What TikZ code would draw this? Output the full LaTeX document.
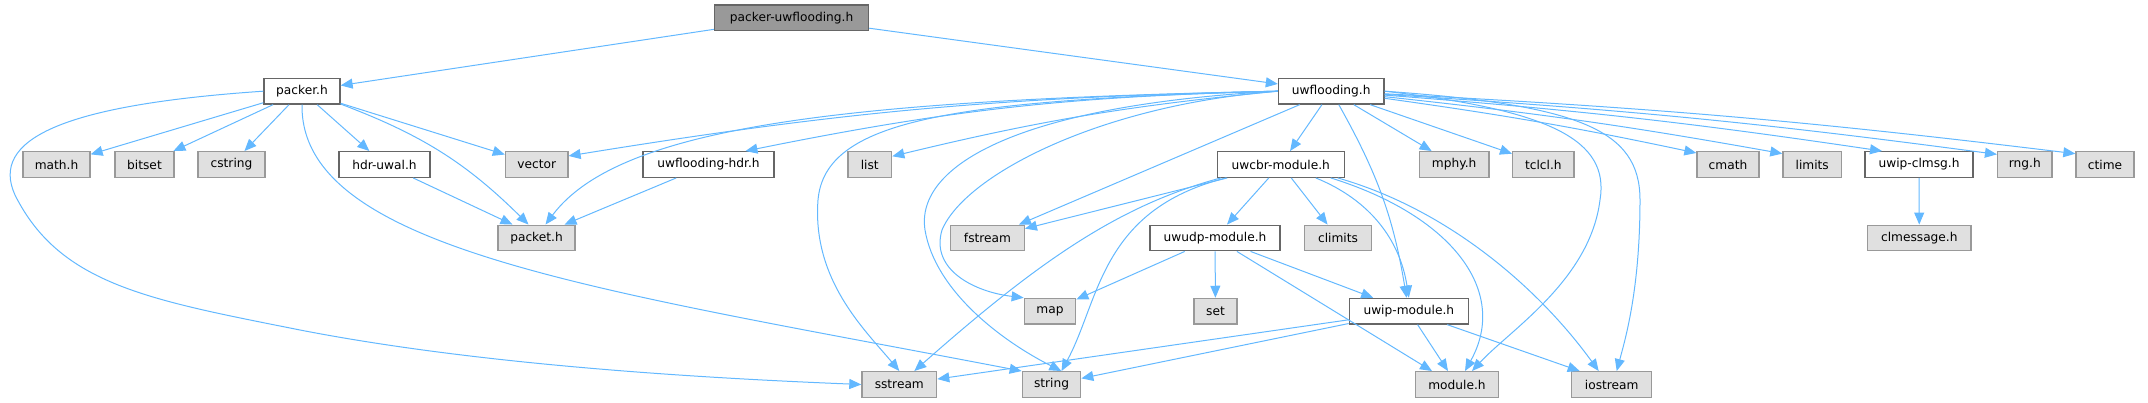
\documentclass[tikz,border=0pt]{standalone}
\usepackage{fontspec}
\usepackage{tikz}
\setmainfont{DejaVu Sans}
\usetikzlibrary{arrows.meta}
\definecolor{sysfill}{HTML}{E0E0E0}
\definecolor{sysline}{HTML}{999999}
\definecolor{locline}{HTML}{666666}
\definecolor{rootfill}{HTML}{999999}
\definecolor{incl}{HTML}{63B8FF}
\newcommand{\graphfont}{\fontsize{12.2}{14}\selectfont}
\tikzset{
  hbox/.style={draw=locline, fill=white, line width=1.3pt, minimum height=25.6pt,
    inner xsep=1pt, inner ysep=0pt, font=\graphfont},
  sbox/.style={hbox, draw=sysline, fill=sysfill},
  rbox/.style={hbox, fill=rootfill},
  inc/.style={draw=incl, line width=1pt, -{Triangle[length=12pt,width=10pt]}},
}
\begin{document}
\begin{tikzpicture}[x=1pt, y=-1pt]
        \useasboundingbox (0,0) rectangle (2148,403);

        % files
        \node[rbox, minimum width=154] (root) at (791.6,17.7) {packer-uwflooding.h};

        \node[hbox, minimum width=76] (packer) at (302,91.2) {packer.h};
        \node[hbox, minimum width=105.5] (uwflooding) at (1331.2,91.2) {uwflooding.h};

        \node[sbox, minimum width=67] (mathh) at (56.5,164.5) {math.h};
        \node[sbox, minimum width=59] (bitset) at (144.5,164.5) {bitset};
        \node[sbox, minimum width=67] (cstring) at (231.5,164.5) {cstring};
        \node[hbox, minimum width=91] (hdruwal) at (384.5,164.5) {hdr-uwal.h};
        \node[sbox, minimum width=62.5] (vector) at (536.7,164.5) {vector};
        \node[hbox, minimum width=131] (uwfhdr) at (708.5,164.5) {uwflooding-hdr.h};
        \node[sbox, minimum width=43.7] (list) at (869.8,164.5) {list};
        \node[hbox, minimum width=127] (uwcbr) at (1280.8,164.5) {uwcbr-module.h};
        \node[sbox, minimum width=69.7] (mphy) at (1454.2,164.5) {mphy.h};
        \node[sbox, minimum width=61.3] (tclcl) at (1543.3,164.5) {tclcl.h};
        \node[sbox, minimum width=62] (cmath) at (1728,164.5) {cmath};
        \node[sbox, minimum width=58.5] (limits) at (1812.2,164.5) {limits};
        \node[hbox, minimum width=108] (uwipclmsg) at (1919,164.5) {uwip-clmsg.h};
        \node[sbox, minimum width=54.4] (rngh) at (2024.8,164.5) {rng.h};
        \node[sbox, minimum width=58] (ctime) at (2105,164.5) {ctime};

        \node[sbox, minimum width=77] (packet) at (536.5,238) {packet.h};
        \node[sbox, minimum width=73.6] (fstream) at (987.5,238) {fstream};
        \node[hbox, minimum width=130] (uwudp) at (1215,238) {uwudp-module.h};
        \node[sbox, minimum width=67.4] (climits) at (1338,238) {climits};
        \node[sbox, minimum width=103.3] (clmessage) at (1919.3,238) {clmessage.h};

        \node[sbox, minimum width=51.4] (map) at (1050,311.2) {map};
        \node[sbox, minimum width=43] (set) at (1215.5,311.2) {set};
        \node[hbox, minimum width=119] (uwip) at (1408.8,311.2) {uwip-module.h};

        \node[sbox, minimum width=74.7] (sstream) at (899.3,384.5) {sstream};
        \node[sbox, minimum width=58.4] (string) at (1051.5,384.5) {string};
        \node[sbox, minimum width=82.6] (module) at (1457,384.5) {module.h};
        \node[sbox, minimum width=80] (iostream) at (1611.7,384.5) {iostream};

        % includes of the root
        \draw[inc] (root) -- (packer);
        \draw[inc] (root) -- (uwflooding);

        % packer.h
        \foreach \t in {mathh, bitset, cstring, hdruwal, vector}
            \draw[inc] (packer) -- (\t);
        \draw[inc] (packer) to[bend left=12] ([xshift=-8]packet.north);
        \draw[inc] (packer.south) .. controls (300,250) and (600,290) .. (string.north west);
        \draw[inc] (packer.west) .. controls (60,105) and (-10,140) .. (15,195)
            .. controls (60,285) and (150,300) .. (300,330)
            .. controls (480,365) and (700,378) .. (sstream.west);
        \draw[inc] (hdruwal) -- ([xshift=-24]packet.north);
        \draw[inc] (uwfhdr) -- ([xshift=28]packet.north);

        % uwflooding.h
        \draw[inc] (uwflooding.west) to[bend right=4] (vector.15);
        \draw[inc] (uwflooding.west) .. controls (850,100) and (620,125) .. ([xshift=9]packet.north);
        \draw[inc] (uwflooding.west) to[bend right=5] (uwfhdr.20);
        \draw[inc] (uwflooding.west) to[bend right=4] (list.20);
        \draw[inc] (uwflooding.west) .. controls (950,100) and (825,120) .. (818,200)
            .. controls (812,280) and (865,330) .. (sstream.north);
        \draw[inc] (uwflooding.west) .. controls (1020,105) and (915,165) .. (925,230)
            .. controls (935,290) and (1000,340) .. ([xshift=-20]string.north east);
        \draw[inc] (uwflooding.west) .. controls (1100,105) and (965,175) .. (942,230)
            .. controls (930,270) and (975,292) .. (map.north west);
        \draw[inc] (uwflooding) -- (fstream);
        \draw[inc] (uwflooding) -- (uwcbr);
        \draw[inc] (uwflooding) to[bend left=10] (uwip);
        \draw[inc] (uwflooding.east) .. controls (1550,110) and (1610,140) .. (1600,200)
            .. controls (1590,280) and (1510,330) .. ([xshift=15]module.north);
        \draw[inc] (uwflooding.east) .. controls (1580,105) and (1640,130) .. (1640,200)
            .. controls (1640,290) and (1625,340) .. ([xshift=5]iostream.north);
        \draw[inc] (uwflooding) -- (mphy);
        \draw[inc] (uwflooding) -- (tclcl);
        \foreach \t in {cmath, limits, uwipclmsg, rngh, ctime}
            \draw[inc] (uwflooding) to[bend left=2] (\t.160);

        % uwcbr-module.h
        \draw[inc] (uwcbr) -- (fstream);
        \draw[inc] (uwcbr) -- (uwudp);
        \draw[inc] (uwcbr) -- (climits);
        \draw[inc] ([xshift=-60]uwcbr.south) .. controls (1120,205) and (1040,260) .. ([xshift=15]sstream.north);
        \draw[inc] ([xshift=-55]uwcbr.south) .. controls (1100,210) and (1100,300) .. ([xshift=10]string.north);
        \draw[inc] ([xshift=35]uwcbr.south) .. controls (1370,200) and (1400,240) .. (uwip.north);
        \draw[inc] ([xshift=50]uwcbr.south) .. controls (1450,215) and (1510,290) .. ([xshift=8]module.north);
        \draw[inc] ([xshift=57]uwcbr.south) .. controls (1450,210) and (1540,290) .. ([xshift=-13]iostream.north);

        % uwudp-module.h
        \draw[inc] (uwudp) -- (map);
        \draw[inc] (uwudp) -- (set);
        \draw[inc] (uwudp) -- ([xshift=-25]module.north);
        \draw[inc] (uwudp) -- (uwip);

        % uwip-module.h
        \draw[inc] (uwip) -- (sstream);
        \draw[inc] (uwip) -- (string);
        \draw[inc] (uwip) -- ([xshift=-9]module.north);
        \draw[inc] (uwip) -- ([xshift=-32]iostream.north);

        \draw[inc] (uwipclmsg) -- (clmessage);
    \end{tikzpicture}
\end{document}
